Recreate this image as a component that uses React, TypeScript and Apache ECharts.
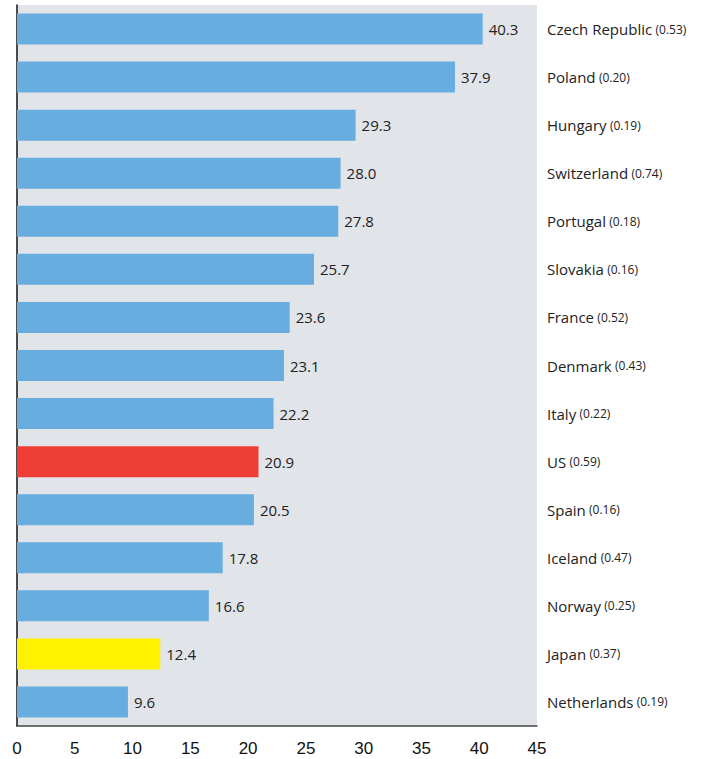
import React, { useEffect, useRef } from "react";
import * as echarts from "echarts";

const countries = [
  "Czech Republic", "Poland", "Hungary", "Switzerland", "Portugal", "Slovakia",
  "France", "Denmark", "Italy", "US", "Spain", "Iceland", "Norway", "Japan", "Netherlands",
];
const notes = [
  "0.53", "0.20", "0.19", "0.74", "0.18", "0.16", "0.52", "0.43", "0.22", "0.59",
  "0.16", "0.47", "0.25", "0.37", "0.19",
];
const values = [40.3, 37.9, 29.3, 28.0, 27.8, 25.7, 23.6, 23.1, 22.2, 20.9, 20.5, 17.8, 16.6, 12.4, 9.6];
const highlight: Record<string, string> = { US: "#ef3e36", Japan: "#fff200" };
const xTicks = [0, 5, 10, 15, 20, 25, 30, 35, 40, 45];

export default function App() {
  const ref = useRef<HTMLDivElement>(null);
  useEffect(() => {
    if (!ref.current) return;
    const chart = echarts.init(ref.current, undefined, { renderer: "svg" });
    const font = "'Open Sans', sans-serif";
    chart.setOption({
      animation: false,
      grid: {
        left: 17, right: 165, top: 5, bottom: 33,
        show: true, backgroundColor: "#e1e4e8", borderWidth: 0,
      },
      xAxis: {
        type: "value", min: xTicks[0], max: xTicks[xTicks.length - 1], interval: 5,
        axisLine: { show: true, onZero: false, lineStyle: { color: "#444", width: 1.5 } },
        axisTick: { show: false },
        splitLine: { show: false },
        axisLabel: { color: "#111", fontSize: 17, fontFamily: "'Liberation Sans', Arial, sans-serif", margin: 14 },
      },
      yAxis: [
        {
          type: "category", data: countries, inverse: true, position: "left",
          axisLine: { show: true, lineStyle: { color: "#111", width: 1.5 } },
          axisTick: { show: false }, axisLabel: { show: false }, splitLine: { show: false },
        },
        {
          type: "category", data: countries, inverse: true, position: "right",
          axisLine: { show: false }, axisTick: { show: false }, splitLine: { show: false },
          axisLabel: {
            margin: 10, align: "left",
            formatter: (v: string, i: number) => `{a|${v}} {b|(${notes[i]})}`,
            rich: {
              a: { fontSize: 15, color: "#222", fontFamily: font },
              b: { fontSize: 12, color: "#222", fontFamily: font },
            },
          },
        },
      ],
      series: [
        {
          type: "bar", yAxisIndex: 0, barWidth: 31,
          data: countries.map((c, i) => ({
            value: values[i],
            itemStyle: { color: highlight[c] || "#67ade0" },
          })),
          label: {
            show: true, position: "right", distance: 6, color: "#222",
            fontSize: 15, fontFamily: font,
            formatter: (p: any) => p.value.toFixed(1),
          },
        },
      ],
    });
    return () => chart.dispose();
  }, []);
  return <div ref={ref} style={{ width: 702, height: 759, position: "absolute", left: 0, top: 0 }} />;
}
